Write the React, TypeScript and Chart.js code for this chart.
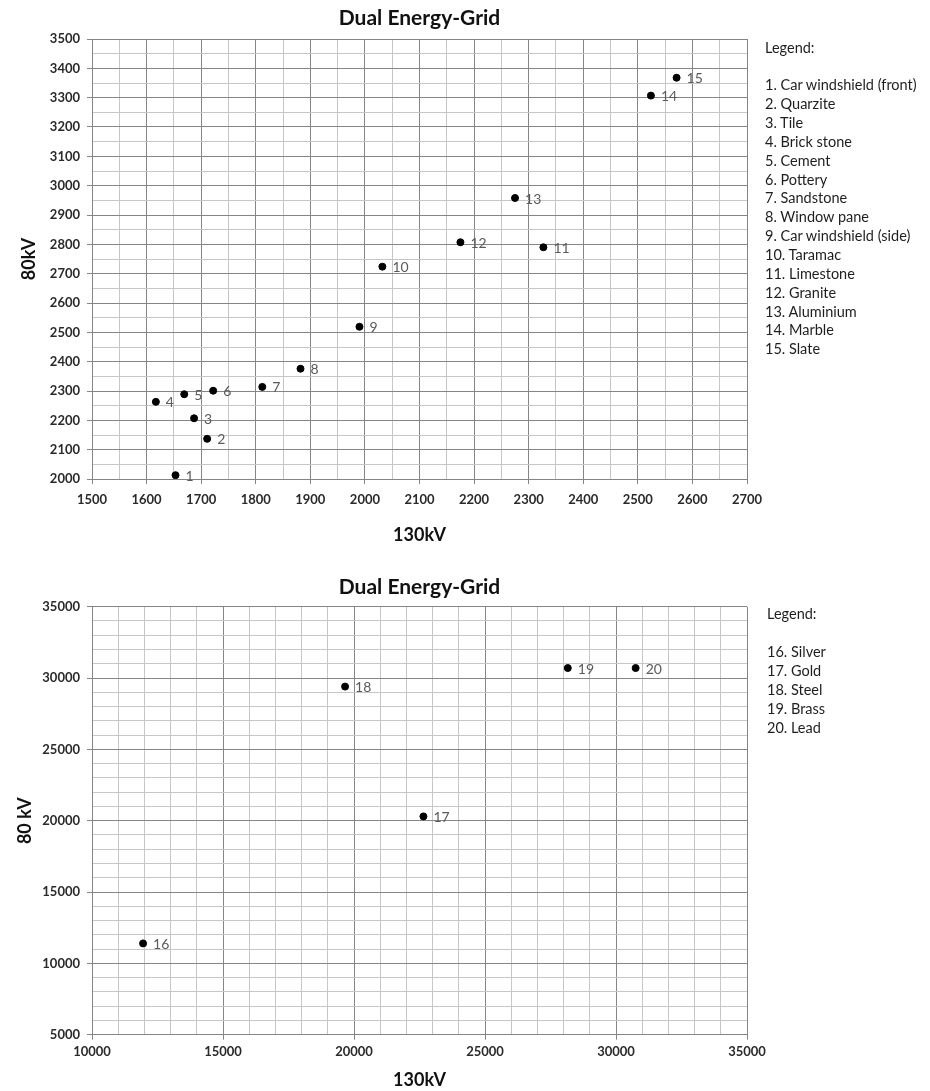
import React, { useEffect, useRef } from "react";
import { Chart, registerables } from "chart.js";

Chart.register(...registerables);

// ---------- Data: chart 1 (rocks / building materials) ----------
const topIds = [1, 2, 3, 4, 5, 6, 7, 8, 9, 10, 11, 12, 13, 14, 15];
const topX130 = [1653, 1711, 1687, 1617, 1669, 1722, 1812, 1882, 1990, 2032, 2327, 2175, 2275, 2524, 2571];
const topY80 = [2013, 2137, 2207, 2263, 2289, 2301, 2314, 2376, 2519, 2724, 2790, 2807, 2958, 3307, 3368];
const topNames = [
  "Car windshield (front)",
  "Quarzite",
  "Tile",
  "Brick stone",
  "Cement",
  "Pottery",
  "Sandstone",
  "Window pane",
  "Car windshield (side)",
  "Taramac",
  "Limestone",
  "Granite",
  "Aluminium",
  "Marble",
  "Slate",
];

// ---------- Data: chart 2 (metals) ----------
const botIds = [16, 17, 18, 19, 20];
const botX130 = [11950, 22650, 19660, 28160, 30750];
const botY80 = [11400, 20300, 29400, 30700, 30700];
const botNames = ["Silver", "Gold", "Steel", "Brass", "Lead"];

// ---------- Axis ranges / tick steps ----------
const topXRange = [1500, 2700];
const topYRange = [2000, 3500];
const topMinorStep = 50;
const topMajorStep = 100;
const botXRange = [10000, 35000];
const botYRange = [5000, 35000];
const botMinorStep = 1000;
const botMajorStep = 5000;

const chartTitle = "Dual Energy-Grid";

const MAJOR = "#858585";
const MINOR = "#c6c6c6";
const FONT = "Lato, 'Open Sans', sans-serif";

const pointLabelPlugin = {
  id: "pointLabels",
  afterDatasetsDraw(chart: any, _args: any, opts: any) {
    const ids: number[] = opts.ids || [];
    const meta = chart.getDatasetMeta(0);
    const ctx = chart.ctx;
    ctx.save();
    ctx.font = `14px ${FONT}`;
    ctx.fillStyle = "#5a5a5a";
    ctx.textAlign = "left";
    ctx.textBaseline = "middle";
    meta.data.forEach((el: any, i: number) => {
      ctx.fillText(String(ids[i]), el.x + 10, el.y + 1);
    });
    ctx.restore();
  },
};

type Cfg = {
  xs: number[];
  ys: number[];
  ids: number[];
  xRange: number[];
  yRange: number[];
  minor: number;
  major: number;
  xTitle: string;
  yTitle: string;
  width: number;
  height: number;
  axisLeft: number;
  axisRightPad: number;
  axisBottom: number;
  titlePad: { top: number; bottom: number };
  xTickPad: number;
  xTitlePadBottom: number;
  yTitlePadTop: number;
  tickSize: number;
};

function ScatterGrid(props: { cfg: Cfg }) {
  const ref = useRef<HTMLCanvasElement | null>(null);
  const c = props.cfg;
  useEffect(() => {
    if (!ref.current) return;
    const isMajor = (ctx: any) =>
      ctx && ctx.tick && Math.abs(ctx.tick.value % c.major) < 1e-6;
    const gridOpts = {
      color: (ctx: any) => (isMajor(ctx) ? MAJOR : MINOR),
      lineWidth: 1,
      tickLength: 5,
      tickColor: (ctx: any) => (isMajor(ctx) ? MAJOR : "rgba(0,0,0,0)"),
    };
    const tickFont = { family: FONT, size: c.tickSize, weight: "bold" as const };
    const label = (v: any) => (Math.abs(Number(v) % c.major) < 1e-6 ? String(v) : "");
    const chart = new Chart(ref.current, {
      type: "scatter",
      data: {
        datasets: [
          {
            data: c.xs.map((x, i) => ({ x, y: c.ys[i] })),
            backgroundColor: "#000",
            borderColor: "#000",
            pointRadius: 3.5,
            pointHoverRadius: 3.5,
          },
        ],
      },
      options: {
        responsive: false,
        animation: false,
        events: [],
        layout: { padding: { left: 0, right: c.axisRightPad, top: 0, bottom: 0 } },
        plugins: {
          legend: { display: false },
          tooltip: { enabled: false },
          title: {
            display: true,
            text: chartTitle,
            fullSize: false,
            color: "#111",
            font: { family: FONT, size: 21, weight: "bold" },
            padding: c.titlePad,
          },
          // @ts-ignore
          pointLabels: { ids: c.ids },
        },
        scales: {
          x: {
            type: "linear",
            min: c.xRange[0],
            max: c.xRange[1],
            ticks: {
              stepSize: c.minor,
              autoSkip: false,
              maxRotation: 0,
              minRotation: 0,
              padding: c.xTickPad,
              color: "#2a2a2a",
              font: tickFont,
              callback: label,
            },
            grid: gridOpts,
            border: { color: MAJOR, width: 1 },
            title: {
              display: true,
              text: c.xTitle,
              color: "#111",
              font: { family: FONT, size: 18, weight: "bold" },
              padding: { top: 0, bottom: c.xTitlePadBottom },
            },
            afterFit: (s: any) => {
              s.height = c.axisBottom;
            },
          },
          y: {
            type: "linear",
            min: c.yRange[0],
            max: c.yRange[1],
            ticks: {
              stepSize: c.minor,
              autoSkip: false,
              padding: 7,
              color: "#2a2a2a",
              font: tickFont,
              callback: label,
            },
            grid: gridOpts,
            border: { color: MAJOR, width: 1 },
            title: {
              display: true,
              text: c.yTitle,
              color: "#111",
              font: { family: FONT, size: 18, weight: "bold" },
              padding: { top: c.yTitlePadTop, bottom: 0 },
            },
            afterFit: (s: any) => {
              s.width = c.axisLeft;
            },
          },
        },
      } as any,
      plugins: [pointLabelPlugin],
    });
    return () => chart.destroy();
  }, []);
  return (
    <canvas
      ref={ref}
      width={c.width}
      height={c.height}
      style={{ width: c.width, height: c.height, display: "block" }}
    />
  );
}

function LegendBox(props: { names: string[]; ids: number[]; left: number; top: number; lh: number }) {
  const lines = ["Legend:", "", ...props.names.map((n, i) => `${props.ids[i]}. ${n}`)];
  return (
    <div
      style={{
        position: "absolute",
        left: props.left,
        top: props.top,
        fontFamily: FONT,
        fontSize: 14.5,
        color: "#1e1e1e",
        lineHeight: `${props.lh}px`,
        whiteSpace: "nowrap",
      }}
    >
      {lines.map((t, i) => (
        <div key={i} style={{ height: props.lh }}>
          {t}
        </div>
      ))}
    </div>
  );
}

const topCfg: Cfg = {
  xs: topX130,
  ys: topY80,
  ids: topIds,
  xRange: topXRange,
  yRange: topYRange,
  minor: topMinorStep,
  major: topMajorStep,
  xTitle: "130kV",
  yTitle: "80kV",
  width: 930,
  height: 560,
  axisLeft: 92,
  axisRightPad: 183,
  axisBottom: 81,
  titlePad: { top: 5.4, bottom: 8.4 },
  xTickPad: 8,
  xTitlePadBottom: 14.2,
  yTitlePadTop: 18.7,
  tickSize: 13,
};

const botCfg: Cfg = {
  xs: botX130,
  ys: botY80,
  ids: botIds,
  xRange: botXRange,
  yRange: botYRange,
  minor: botMinorStep,
  major: botMajorStep,
  xTitle: "130kV",
  yTitle: "80 kV",
  width: 930,
  height: 526,
  axisLeft: 92,
  axisRightPad: 183,
  axisBottom: 56.3,
  titlePad: { top: 9.4, bottom: 7.1 },
  xTickPad: 4,
  xTitlePadBottom: 0.5,
  yTitlePadTop: 14.2,
  tickSize: 13,
};

export default function App() {
  return (
    <div style={{ position: "absolute", left: 0, top: 0, width: 930, height: 1091, background: "#fff", overflow: "hidden" }}>
      <div style={{ position: "absolute", left: 0, top: 0 }}>
        <ScatterGrid cfg={topCfg} />
      </div>
      <div style={{ position: "absolute", left: 0, top: 565 }}>
        <ScatterGrid cfg={botCfg} />
      </div>
      <LegendBox names={topNames} ids={topIds} left={765} top={38.6} lh={18.86} />
      <LegendBox names={botNames} ids={botIds} left={767} top={603.5} lh={19} />
    </div>
  );
}
